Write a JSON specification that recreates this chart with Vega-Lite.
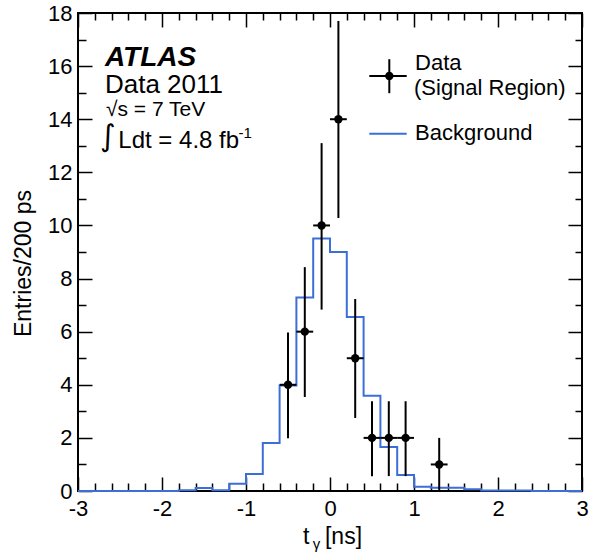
{
  "$schema": "https://vega.github.io/schema/vega-lite/v6.json",
  "width": 504,
  "height": 478,
  "autosize": {"type": "none"},
  "padding": {"left": 78, "top": 13, "right": 7, "bottom": 67},
  "config": {
    "view": {"stroke": "black", "strokeWidth": 2},
    "font": "Liberation Sans",
    "axis": {"grid": false, "domain": false, "tickColor": "black", "tickWidth": 1.5, "labelFont": "Liberation Sans", "labelFontSize": 22, "labelColor": "black"}
  },
  "datasets": {
    "bkg": [
      {"t": -3.0, "n": 0}, {"t": -2.8, "n": 0}, {"t": -2.6, "n": 0}, {"t": -2.4, "n": 0},
      {"t": -2.2, "n": 0}, {"t": -2.0, "n": 0}, {"t": -1.8, "n": 0.03}, {"t": -1.6, "n": 0.11},
      {"t": -1.4, "n": 0.03}, {"t": -1.2, "n": 0.27}, {"t": -1.0, "n": 0.64}, {"t": -0.8, "n": 1.81},
      {"t": -0.6, "n": 3.97}, {"t": -0.4, "n": 7.29}, {"t": -0.2, "n": 9.51}, {"t": 0.0, "n": 9.0},
      {"t": 0.2, "n": 6.55}, {"t": 0.4, "n": 3.59}, {"t": 0.6, "n": 1.66}, {"t": 0.8, "n": 0.6},
      {"t": 1.0, "n": 0.16}, {"t": 1.2, "n": 0.12}, {"t": 1.4, "n": 0.12}, {"t": 1.6, "n": 0.07},
      {"t": 1.8, "n": 0.02}, {"t": 2.0, "n": 0.02}, {"t": 2.2, "n": 0.02}, {"t": 2.4, "n": 0},
      {"t": 2.6, "n": 0}, {"t": 2.8, "n": 0}, {"t": 3.0, "n": 0}
    ],
    "obs": [
      {"t": -0.5, "tl": -0.6, "th": -0.4, "n": 4, "lo": 1.99, "hi": 5.97},
      {"t": -0.3, "tl": -0.4, "th": -0.2, "n": 6, "lo": 3.54, "hi": 8.43},
      {"t": -0.1, "tl": -0.2, "th": 0.0, "n": 10, "lo": 6.83, "hi": 13.1},
      {"t": 0.1, "tl": 0.0, "th": 0.2, "n": 14, "lo": 10.28, "hi": 17.7},
      {"t": 0.3, "tl": 0.2, "th": 0.4, "n": 5, "lo": 2.75, "hi": 7.23},
      {"t": 0.5, "tl": 0.4, "th": 0.6, "n": 2, "lo": 0.56, "hi": 3.38},
      {"t": 0.7, "tl": 0.6, "th": 0.8, "n": 2, "lo": 0.56, "hi": 3.38},
      {"t": 0.9, "tl": 0.8, "th": 1.0, "n": 2, "lo": 0.56, "hi": 3.38},
      {"t": 1.3, "tl": 1.2, "th": 1.4, "n": 1, "lo": 0, "hi": 2.0}
    ],
    "one": [{}]
  },
  "resolve": {"axis": {"x": "independent", "y": "independent"}},
  "layer": [
    {
      "data": {"name": "bkg"},
      "mark": {"type": "line", "interpolate": "step-after", "color": "#3c6ed8", "strokeWidth": 2},
      "encoding": {
        "x": {"field": "t", "type": "quantitative", "scale": {"domain": [-3, 3], "nice": false, "zero": false},
          "axis": {"orient": "bottom", "values": [-3, -2, -1, 0, 1, 2, 3], "tickSize": -14, "labelPadding": 21, "labelFlush": false, "title": null,
            "labelExpr": "datum.value < 0 ? '-' + abs(datum.value) : '' + datum.value"}},
        "y": {"field": "n", "type": "quantitative", "scale": {"domain": [0, 18], "nice": false, "zero": false},
          "axis": {"orient": "left", "values": [0, 2, 4, 6, 8, 10, 12, 14, 16, 18], "tickSize": -14, "labelPadding": 20, "labelFlush": false, "title": "Entries/200 ps", "titleFont": "Liberation Sans", "titleFontSize": 23, "titleFontWeight": "normal", "titleColor": "black", "titlePadding": 12, "titleY": 250}}
      }
    },
    {
      "data": {"name": "obs"},
      "mark": {"type": "rule", "color": "black", "strokeWidth": 2},
      "encoding": {
        "x": {"field": "t", "type": "quantitative", "scale": {"domain": [-3, 3], "nice": false, "zero": false},
          "axis": {"orient": "bottom", "values": [-2.8, -2.6, -2.4, -2.2, -1.8, -1.6, -1.4, -1.2, -0.8, -0.6, -0.4, -0.2, 0.2, 0.4, 0.6, 0.8, 1.2, 1.4, 1.6, 1.8, 2.2, 2.4, 2.6, 2.8], "tickSize": -8, "labels": false, "title": null}},
        "y": {"field": "lo", "type": "quantitative", "scale": {"domain": [0, 18], "nice": false, "zero": false},
          "axis": {"orient": "left", "values": [1, 3, 5, 7, 9, 11, 13, 15, 17], "tickSize": -8, "labels": false, "title": null}},
        "y2": {"field": "hi"}
      }
    },
    {
      "data": {"name": "obs"},
      "mark": {"type": "rule", "color": "black", "strokeWidth": 2},
      "encoding": {
        "x": {"field": "tl", "type": "quantitative", "scale": {"domain": [-3, 3], "nice": false, "zero": false},
          "axis": {"orient": "top", "values": [-3, -2, -1, 0, 1, 2, 3], "tickSize": -14, "labels": false, "title": null}},
        "x2": {"field": "th"},
        "y": {"field": "n", "type": "quantitative", "scale": {"domain": [0, 18], "nice": false, "zero": false},
          "axis": {"orient": "right", "values": [0, 2, 4, 6, 8, 10, 12, 14, 16, 18], "tickSize": -14, "labels": false, "title": null}}
      }
    },
    {
      "data": {"name": "obs"},
      "mark": {"type": "circle", "color": "black", "opacity": 1, "size": 70},
      "encoding": {
        "x": {"field": "t", "type": "quantitative", "scale": {"domain": [-3, 3], "nice": false, "zero": false},
          "axis": {"orient": "top", "values": [-2.8, -2.6, -2.4, -2.2, -1.8, -1.6, -1.4, -1.2, -0.8, -0.6, -0.4, -0.2, 0.2, 0.4, 0.6, 0.8, 1.2, 1.4, 1.6, 1.8, 2.2, 2.4, 2.6, 2.8], "tickSize": -7, "labels": false, "title": null}},
        "y": {"field": "n", "type": "quantitative", "scale": {"domain": [0, 18], "nice": false, "zero": false},
          "axis": {"orient": "right", "values": [1, 3, 5, 7, 9, 11, 13, 15, 17], "tickSize": -7, "labels": false, "title": null}}
      }
    },
    {
      "data": {"name": "one"},
      "mark": {"type": "text", "text": "ATLAS", "font": "Liberation Sans", "fontSize": 28, "fontWeight": "bold", "fontStyle": "italic", "align": "left", "baseline": "alphabetic", "color": "black"},
      "encoding": {"x": {"datum": -2.679, "type": "quantitative", "axis": null}, "y": {"datum": 16.01, "type": "quantitative", "axis": null}}
    },
    {
      "data": {"name": "one"},
      "mark": {"type": "text", "text": "Data 2011", "font": "Liberation Sans", "fontSize": 26, "align": "left", "baseline": "alphabetic", "color": "black"},
      "encoding": {"x": {"datum": -2.679, "type": "quantitative", "axis": null}, "y": {"datum": 15.0, "type": "quantitative", "axis": null}}
    },
    {
      "data": {"name": "one"},
      "mark": {"type": "text", "text": "√s = 7 TeV", "font": "Liberation Sans", "fontSize": 21, "align": "left", "baseline": "alphabetic", "color": "black"},
      "encoding": {"x": {"datum": -2.667, "type": "quantitative", "axis": null}, "y": {"datum": 14.12, "type": "quantitative", "axis": null}}
    },
    {
      "data": {"name": "one"},
      "mark": {"type": "text", "text": "∫", "font": "DejaVu Sans", "fontSize": 30, "align": "center", "baseline": "middle", "color": "black"},
      "encoding": {"x": {"datum": -2.645, "type": "quantitative", "axis": null}, "y": {"datum": 13.34, "type": "quantitative", "axis": null}}
    },
    {
      "data": {"name": "one"},
      "mark": {"type": "text", "text": "Ldt = 4.8 fb", "font": "Liberation Sans", "fontSize": 24, "align": "left", "baseline": "alphabetic", "color": "black"},
      "encoding": {"x": {"datum": -2.52, "type": "quantitative", "axis": null}, "y": {"datum": 12.9, "type": "quantitative", "axis": null}}
    },
    {
      "data": {"name": "one"},
      "mark": {"type": "text", "text": "-1", "font": "Liberation Sans", "fontSize": 15, "align": "left", "baseline": "alphabetic", "color": "black"},
      "encoding": {"x": {"datum": -1.09, "type": "quantitative", "axis": null}, "y": {"datum": 13.29, "type": "quantitative", "axis": null}}
    },
    {
      "data": {"name": "one"},
      "mark": {"type": "rule", "color": "black", "strokeWidth": 2},
      "encoding": {"x": {"datum": 0.468, "type": "quantitative", "axis": null}, "x2": {"datum": 0.913}, "y": {"datum": 15.63, "type": "quantitative", "axis": null}}
    },
    {
      "data": {"name": "one"},
      "mark": {"type": "rule", "color": "black", "strokeWidth": 2},
      "encoding": {"x": {"datum": 0.706, "type": "quantitative", "axis": null}, "y": {"datum": 14.98, "type": "quantitative", "axis": null}, "y2": {"datum": 16.26}}
    },
    {
      "data": {"name": "one"},
      "mark": {"type": "circle", "color": "black", "opacity": 1, "size": 70},
      "encoding": {"x": {"datum": 0.706, "type": "quantitative", "axis": null}, "y": {"datum": 15.63, "type": "quantitative", "axis": null}}
    },
    {
      "data": {"name": "one"},
      "mark": {"type": "rule", "color": "#3c6ed8", "strokeWidth": 2},
      "encoding": {"x": {"datum": 0.468, "type": "quantitative", "axis": null}, "x2": {"datum": 0.913}, "y": {"datum": 13.45, "type": "quantitative", "axis": null}}
    },
    {
      "data": {"name": "one"},
      "mark": {"type": "text", "text": "Data", "font": "Liberation Sans", "fontSize": 22, "align": "left", "baseline": "alphabetic", "color": "black"},
      "encoding": {"x": {"datum": 1.012, "type": "quantitative", "axis": null}, "y": {"datum": 15.86, "type": "quantitative", "axis": null}}
    },
    {
      "data": {"name": "one"},
      "mark": {"type": "text", "text": "(Signal Region)", "font": "Liberation Sans", "fontSize": 22, "align": "left", "baseline": "alphabetic", "color": "black"},
      "encoding": {"x": {"datum": 1.0, "type": "quantitative", "axis": null}, "y": {"datum": 14.92, "type": "quantitative", "axis": null}}
    },
    {
      "data": {"name": "one"},
      "mark": {"type": "text", "text": "Background", "font": "Liberation Sans", "fontSize": 22, "align": "left", "baseline": "alphabetic", "color": "black"},
      "encoding": {"x": {"datum": 1.012, "type": "quantitative", "axis": null}, "y": {"datum": 13.22, "type": "quantitative", "axis": null}}
    },
    {
      "data": {"name": "one"},
      "mark": {"type": "text", "text": "t", "font": "Liberation Sans", "fontSize": 23, "align": "left", "baseline": "alphabetic", "color": "black"},
      "encoding": {"x": {"datum": -0.321, "type": "quantitative", "axis": null}, "y": {"datum": -2.01, "type": "quantitative", "axis": null}}
    },
    {
      "data": {"name": "one"},
      "mark": {"type": "text", "text": "γ", "font": "Liberation Sans", "fontSize": 15, "align": "left", "baseline": "alphabetic", "color": "black"},
      "encoding": {"x": {"datum": -0.205, "type": "quantitative", "axis": null}, "y": {"datum": -2.2, "type": "quantitative", "axis": null}}
    },
    {
      "data": {"name": "one"},
      "mark": {"type": "text", "text": "[ns]", "font": "Liberation Sans", "fontSize": 23, "align": "left", "baseline": "alphabetic", "color": "black"},
      "encoding": {"x": {"datum": -0.06, "type": "quantitative", "axis": null}, "y": {"datum": -2.01, "type": "quantitative", "axis": null}}
    }
  ]
}
